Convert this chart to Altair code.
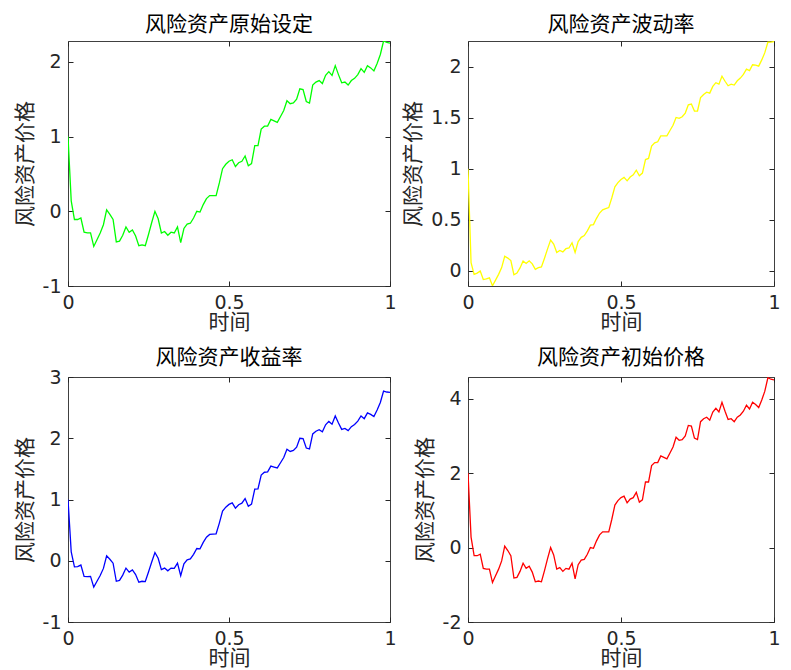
import altair as alt
import pandas as pd

# sample times
time = [0.00, 0.01, 0.02, 0.03, 0.04, 0.05, 0.06, 0.07, 0.08, 0.09,
        0.10, 0.11, 0.12, 0.13, 0.14, 0.15, 0.16, 0.17, 0.18, 0.19,
        0.20, 0.21, 0.22, 0.23, 0.24, 0.25, 0.26, 0.27, 0.28, 0.29,
        0.30, 0.31, 0.32, 0.33, 0.34, 0.35, 0.36, 0.37, 0.38, 0.39,
        0.40, 0.41, 0.42, 0.43, 0.44, 0.45, 0.46, 0.47, 0.48, 0.49,
        0.50, 0.51, 0.52, 0.53, 0.54, 0.55, 0.56, 0.57, 0.58, 0.59,
        0.60, 0.61, 0.62, 0.63, 0.64, 0.65, 0.66, 0.67, 0.68, 0.69,
        0.70, 0.71, 0.72, 0.73, 0.74, 0.75, 0.76, 0.77, 0.78, 0.79,
        0.80, 0.81, 0.82, 0.83, 0.84, 0.85, 0.86, 0.87, 0.88, 0.89,
        0.90, 0.91, 0.92, 0.93, 0.94, 0.95, 0.96, 0.97, 0.98, 0.99, 1.00]

# 风险资产原始设定 (green)
price_original = [1.00, 0.14, -0.11, -0.11, -0.09, -0.28, -0.29, -0.29, -0.47, -0.38,
                  -0.29, -0.18, 0.02, -0.04, -0.11, -0.41, -0.40, -0.32, -0.21, -0.28,
                  -0.25, -0.33, -0.46, -0.45, -0.46, -0.31, -0.15, 0.00, -0.10, -0.29,
                  -0.27, -0.32, -0.28, -0.29, -0.21, -0.42, -0.23, -0.17, -0.16, -0.09,
                  0.00, -0.01, 0.09, 0.17, 0.21, 0.21, 0.21, 0.38, 0.57, 0.63,
                  0.67, 0.69, 0.60, 0.65, 0.67, 0.74, 0.61, 0.64, 0.88, 0.88,
                  1.10, 1.14, 1.14, 1.23, 1.21, 1.19, 1.27, 1.35, 1.48, 1.44,
                  1.45, 1.50, 1.64, 1.63, 1.47, 1.45, 1.69, 1.73, 1.75, 1.71,
                  1.82, 1.87, 1.82, 1.95, 1.83, 1.72, 1.73, 1.69, 1.75, 1.78,
                  1.83, 1.91, 1.86, 1.95, 1.92, 1.88, 1.98, 2.10, 2.28, 2.26, 2.25]

# 风险资产波动率 (yellow)
price_volatility = [1.000, 0.081, -0.033, -0.021, 0.000, -0.084, -0.078, -0.067, -0.145, -0.089,
                    -0.033, 0.033, 0.144, 0.126, 0.102, -0.037, -0.021, 0.030, 0.097, 0.073,
                    0.099, 0.070, 0.016, 0.033, 0.039, 0.125, 0.216, 0.302, 0.264, 0.180,
                    0.201, 0.187, 0.218, 0.225, 0.276, 0.182, 0.288, 0.329, 0.346, 0.392,
                    0.448, 0.454, 0.515, 0.567, 0.598, 0.609, 0.620, 0.716, 0.823, 0.864,
                    0.895, 0.916, 0.882, 0.919, 0.940, 0.986, 0.932, 0.958, 1.090, 1.101,
                    1.222, 1.253, 1.264, 1.321, 1.322, 1.323, 1.374, 1.425, 1.502, 1.493,
                    1.509, 1.545, 1.626, 1.633, 1.564, 1.565, 1.696, 1.727, 1.749, 1.740,
                    1.806, 1.842, 1.828, 1.905, 1.856, 1.812, 1.828, 1.819, 1.861, 1.887,
                    1.923, 1.974, 1.960, 2.017, 2.013, 2.004, 2.065, 2.136, 2.238, 2.239, 2.245]

# 风险资产收益率 (blue)
price_return = [1.000, 0.145, -0.100, -0.095, -0.070, -0.255, -0.260, -0.255, -0.430, -0.335,
                -0.240, -0.125, 0.080, 0.025, -0.040, -0.335, -0.320, -0.235, -0.120, -0.185,
                -0.150, -0.225, -0.350, -0.335, -0.340, -0.185, -0.020, 0.135, 0.040, -0.145,
                -0.120, -0.165, -0.120, -0.125, -0.040, -0.245, -0.050, 0.015, 0.030, 0.105,
                0.200, 0.195, 0.300, 0.385, 0.430, 0.435, 0.440, 0.615, 0.810, 0.875,
                0.920, 0.945, 0.860, 0.915, 0.940, 1.015, 0.890, 0.925, 1.170, 1.175,
                1.400, 1.445, 1.450, 1.545, 1.530, 1.515, 1.600, 1.685, 1.820, 1.785,
                1.800, 1.855, 2.000, 1.995, 1.840, 1.825, 2.070, 2.115, 2.140, 2.105,
                2.220, 2.275, 2.230, 2.365, 2.250, 2.145, 2.160, 2.125, 2.190, 2.225,
                2.280, 2.365, 2.320, 2.415, 2.390, 2.355, 2.460, 2.585, 2.770, 2.755, 2.750]

# 风险资产初始价格 (red)
price_initial = [2.00, 0.28, -0.22, -0.22, -0.18, -0.56, -0.58, -0.58, -0.94, -0.76,
                 -0.58, -0.36, 0.04, -0.08, -0.22, -0.82, -0.80, -0.64, -0.42, -0.56,
                 -0.50, -0.66, -0.92, -0.90, -0.92, -0.62, -0.30, 0.00, -0.20, -0.58,
                 -0.54, -0.64, -0.56, -0.58, -0.42, -0.84, -0.46, -0.34, -0.32, -0.18,
                 0.00, -0.02, 0.18, 0.34, 0.42, 0.42, 0.42, 0.76, 1.14, 1.26,
                 1.34, 1.38, 1.20, 1.30, 1.34, 1.48, 1.22, 1.28, 1.76, 1.76,
                 2.20, 2.28, 2.28, 2.46, 2.42, 2.38, 2.54, 2.70, 2.96, 2.88,
                 2.90, 3.00, 3.28, 3.26, 2.94, 2.90, 3.38, 3.46, 3.50, 3.42,
                 3.64, 3.74, 3.64, 3.90, 3.66, 3.44, 3.46, 3.38, 3.50, 3.56,
                 3.66, 3.82, 3.72, 3.90, 3.84, 3.76, 3.96, 4.20, 4.56, 4.52, 4.50]

titles = ["风险资产原始设定", "风险资产波动率", "风险资产收益率", "风险资产初始价格"]
colors = ["#00ff00", "#ffff00", "#0000ff", "#ff0000"]
y_domains = [[-1, 2.28], [-0.147, 2.25], [-1, 3], [-2, 4.58]]
y_ticks = [[-1, 0, 1, 2], [0, 0.5, 1, 1.5, 2], [-1, 0, 1, 2, 3], [-2, 0, 2, 4]]
x_ticks = [0, 0.5, 1]
x_title = "时间"
y_title = "风险资产价格"

CJK = "Noto Sans CJK SC"
NUM = "DejaVu Sans"
LABEL_EXPR = "replace(datum.label, '\u2212', '-')"


def panel(values, color, title, ydom, yticks, width, title_offset):
    df = pd.DataFrame({"t": time, "v": values})
    xs = alt.Scale(domain=[0, 1], nice=False, zero=False)
    ys = alt.Scale(domain=ydom, nice=False, zero=False)
    base = alt.Chart(df)
    line = base.mark_line(color=color, strokeWidth=1.3, clip=True).encode(
        x=alt.X("t:Q", scale=xs,
                axis=alt.Axis(title=x_title, orient="bottom", values=x_ticks, format="~g",
                              labelExpr=LABEL_EXPR,
                              offset=-5, tickSize=5, domain=False, grid=False,
                              labelPadding=7, titlePadding=-1, labelFlush=False,
                              minExtent=0)),
        y=alt.Y("v:Q", scale=ys,
                axis=alt.Axis(title=y_title, orient="left", values=yticks, format="~g",
                              labelExpr=LABEL_EXPR,
                              offset=-5, tickSize=5, domain=False, grid=False,
                              labelPadding=7, titlePadding=7, labelFlush=False,
                              minExtent=0)),
    )
    frame = base.mark_line(opacity=0).encode(
        x=alt.X("t:Q", scale=xs,
                axis=alt.Axis(title=None, orient="top", values=x_ticks, labels=False,
                              offset=-5, tickSize=5, domain=False, grid=False,
                              minExtent=0, maxExtent=0)),
        y=alt.Y("v:Q", scale=ys,
                axis=alt.Axis(title=None, orient="right", values=yticks, labels=False,
                              offset=-5, tickSize=5, domain=False, grid=False,
                              minExtent=0, maxExtent=0)),
    )
    return alt.layer(line, frame).resolve_axis(x="independent", y="independent").properties(
        width=width, height=245,
        title=alt.TitleParams(title, font=CJK, fontSize=21, fontWeight="normal",
                              color="#000000", offset=title_offset, anchor="middle"),
    )


panels = [
    panel(price_original, colors[0], titles[0], y_domains[0], y_ticks[0], 322, 6),
    panel(price_volatility, colors[1], titles[1], y_domains[1], y_ticks[1], 306, 6),
    panel(price_return, colors[2], titles[2], y_domains[2], y_ticks[2], 322, 0),
    panel(price_initial, colors[3], titles[3], y_domains[3], y_ticks[3], 306, 9),
]

chart = alt.concat(
    *panels, columns=2, spacing={"row": 91, "column": 78}, bounds="flush"
).properties(
    padding={"left": 5, "top": 5, "right": 0, "bottom": 0},
    background="white",
).configure_view(
    stroke="#404040", strokeWidth=1
).configure_axis(
    labelFont=NUM, labelFontSize=19, labelColor="#262626",
    titleFont=CJK, titleFontSize=21, titleFontWeight="normal", titleColor="#262626",
    tickColor="#262626", tickWidth=1,
)

chart.save("out.html", embed_options={"renderer": "svg", "actions": False})
